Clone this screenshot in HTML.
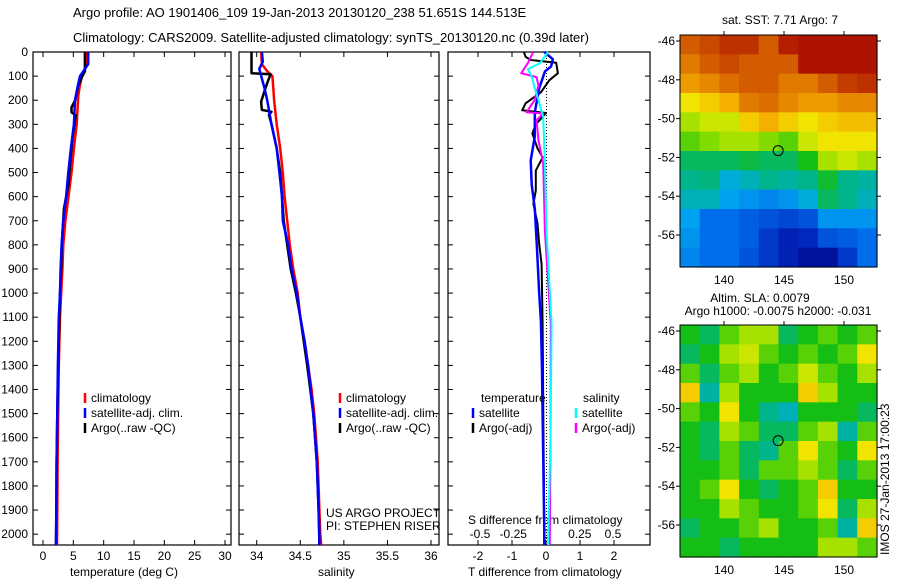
<!DOCTYPE html>
<html><head><meta charset="utf-8"><style>
body{margin:0;background:#fff;}
svg text{font-family:"Liberation Sans",sans-serif;font-size:12px;fill:#000;}
</style></head><body>
<svg id="fig" width="900" height="580" xmlns="http://www.w3.org/2000/svg">
<text x="73" y="17" style="font-size:13px">Argo profile: AO 1901406_109 19-Jan-2013 20130120_238 51.651S 144.513E</text>
<text x="73" y="42" style="font-size:13px">Climatology: CARS2009. Satellite-adjusted climatology: synTS_20130120.nc (0.39d later)</text>
<text x="780" y="24" text-anchor="middle">sat. SST: 7.71 Argo: 7</text>
<text x="760" y="302" text-anchor="middle">Altim. SLA: 0.0079</text>
<text x="778" y="315" text-anchor="middle">Argo h1000: -0.0075 h2000: -0.031</text>
<text transform="translate(889,555) rotate(-90)">IMOS 27-Jan-2013 17:00:23</text>
<text x="70" y="576">temperature (deg C)</text>
<text x="318" y="576">salinity</text>
<text x="468" y="576">T difference from climatology</text>
<text x="468" y="524">S difference from climatology</text>
<text x="326" y="517">US ARGO PROJECT</text>
<text x="326" y="530">PI: STEPHEN RISER</text>
<g id="g"></g>
</svg>
<script>
// ---- profile data ----
const depthClimT=[0,20,50,80,100,150,185,300,400,500,600,700,800,900,1000,1100,1300,1500,1700,1900,2045];
const climT=[7.25,7.25,7.2,6.8,6.4,6.0,5.8,5.55,5.1,4.7,4.2,3.7,3.35,3.2,3.0,2.8,2.6,2.5,2.4,2.35,2.3];
const depthSatT=[0,50,70,100,150,200,300,400,500,600,700,800,900,1000,1100,1300,1500,1700,1900,2045];
const satT=[7.45,7.45,6.9,6.1,5.65,5.27,5.1,4.6,4.17,3.8,3.35,3.07,2.9,2.8,2.6,2.45,2.35,2.25,2.2,2.15];
const depthArgoT=[0,80,100,140,200,230,250,262,350,450,550,650,800,900,1000,1100,1300,1500,1700,1900,2045];
const argoT=[6.9,6.9,6.5,5.8,5.3,4.7,4.7,5.4,4.9,4.5,4.2,3.45,3.1,3.0,2.8,2.7,2.5,2.35,2.25,2.2,2.15];
const depthClimS=[0,50,80,100,150,200,300,400,500,600,700,800,900,1000,1100,1200,1300,1400,1500,1600,1700,1800,1900,2000,2045];
const climS=[34.05,34.06,34.12,34.18,34.19,34.2,34.23,34.27,34.3,34.32,34.35,34.38,34.42,34.47,34.5,34.55,34.59,34.63,34.66,34.68,34.7,34.71,34.72,34.73,34.74];
const depthSatS=[0,40,70,150,200,300,400,500,600,700,800,900,1000,1100,1200,1300,1400,1500,1600,1700,1800,1900,2000,2045];
const satS=[34.06,34.07,34.03,34.09,34.12,34.17,34.23,34.26,34.29,34.3,34.36,34.4,34.46,34.5,34.55,34.59,34.62,34.65,34.67,34.69,34.7,34.71,34.72,34.72];
const depthArgoS=[0,88,92,120,150,206,240,248,260,300,400,500,600,700,800,900,1000,1100,1300,1500,1700,1900,2045];
const argoS=[33.94,33.94,34.16,34.13,34.1,34.05,34.06,34.17,34.14,34.17,34.23,34.27,34.29,34.31,34.35,34.39,34.45,34.5,34.58,34.65,34.69,34.71,34.72];
const depthSatTd=[0,30,60,80,150,250,350,450,550,650,800,1000,1117,1300,1500,1700,2000,2045];
const satTd=[-0.05,0.2,0.15,-0.03,-0.2,-0.33,-0.33,-0.45,-0.42,-0.33,-0.27,-0.2,-0.15,-0.12,-0.1,-0.08,-0.05,-0.05];
const depthArgoTd=[0,20,33,45,88,117,167,213,242,253,300,338,400,437,492,575,630,712,796,880,1130,1500,2000,2045];
const argoTd=[-0.65,-0.6,-0.45,0.3,0.35,0.1,-0.15,-0.6,-0.7,0.0,-0.3,-0.4,-0.25,-0.1,-0.3,-0.3,-0.37,-0.25,-0.2,-0.13,-0.1,-0.08,-0.05,-0.05];
const depthArgoSd=[0,46,88,104,138,200,250,255,283,367,463,742,1130,1600,2045];
const argoSd=[-0.1,-0.14,-0.19,-0.075,-0.06,-0.09,-0.15,-0.025,-0.075,-0.06,-0.025,-0.012,0.032,0.03,0.025];
const depthSatSd=[0,46,71,104,146,200,270,463,742,1130,1600,2045];
const satSd=[0.012,-0.05,-0.14,-0.11,-0.09,-0.06,-0.025,-0.012,0,0.038,0.03,0.012];
const depthTicks=[0,100,200,300,400,500,600,700,800,900,1000,1100,1200,1300,1400,1500,1600,1700,1800,1900,2000];
const tempTicks=[0,5,10,15,20,25,30];
const salTicks=["34","34.5","35","35.5","36"];
const tdTicks=[-2,-1,0,1,2];
const sdTicks=["-0.5","-0.25","0","0.25","0.5"];
// ---- map data (colormap index 0..1) ----
const sstGrid=[
[0.85,0.88,0.92,0.92,0.85,0.95,0.97,0.97,0.97,0.97],
[0.8,0.85,0.88,0.85,0.85,0.85,0.97,0.97,0.97,0.97],
[0.75,0.78,0.82,0.85,0.85,0.8,0.8,0.85,0.9,0.92],
[0.65,0.68,0.72,0.8,0.82,0.78,0.75,0.75,0.78,0.78],
[0.6,0.62,0.62,0.68,0.72,0.68,0.65,0.68,0.7,0.7],
[0.55,0.58,0.6,0.6,0.58,0.55,0.62,0.65,0.65,0.65],
[0.45,0.45,0.45,0.47,0.45,0.45,0.5,0.6,0.62,0.6],
[0.42,0.43,0.35,0.38,0.42,0.4,0.42,0.48,0.42,0.4],
[0.38,0.38,0.32,0.3,0.28,0.3,0.35,0.45,0.42,0.38],
[0.32,0.25,0.25,0.22,0.2,0.18,0.2,0.3,0.3,0.3],
[0.3,0.25,0.25,0.22,0.15,0.1,0.12,0.2,0.22,0.25],
[0.28,0.25,0.25,0.2,0.15,0.1,0.05,0.05,0.15,0.25]];
const slaGrid=[
[.5,.45,.55,.6,.6,.45,.5,.55,.5,.55],
[.45,.5,.6,.62,.55,.5,.55,.5,.55,.65],
[.55,.45,.55,.6,.5,.55,.62,.55,.5,.6],
[.68,.4,.6,.5,.5,.5,.68,.6,.5,.5],
[.55,.5,.65,.5,.42,.38,.5,.5,.5,.45],
[.5,.45,.6,.55,.45,.45,.55,.6,.4,.55],
[.5,.45,.55,.45,.42,.55,.65,.55,.5,.65],
[.5,.5,.55,.45,.55,.55,.6,.55,.45,.55],
[.5,.55,.65,.5,.45,.5,.55,.68,.5,.5],
[.5,.5,.6,.55,.5,.5,.55,.65,.45,.6],
[.45,.5,.5,.55,.6,.5,.5,.55,.4,.68],
[.5,.5,.45,.5,.5,.5,.5,.6,.6,.55]];
const latTicks=[-46,-48,-50,-52,-54,-56];
const lonTicks=[140,145,150];
const argoLon=144.513, argoLat=-51.651;

const NS='http://www.w3.org/2000/svg';
const G=document.getElementById('g');
function mk(tag,attrs,txt){const e=document.createElementNS(NS,tag);for(const k in attrs)e.setAttribute(k,attrs[k]);if(txt!==undefined)e.textContent=txt;G.appendChild(e);return e;}
const top0=52,bot0=545,dMax=2045;
const yD=d=>top0+d*(bot0-top0)/dMax;
function lin(d0,d1,r0,r1){return v=>r0+(v-d0)*(r1-r0)/(d1-d0);}
const panels=[{x0:33,x1:231,fx:lin(0,30,43,225)},{x0:239,x1:439,fx:lin(34,36,256.7,431)},{x0:448,x1:650,fx:lin(-2,2,478,614)}];
const fS=lin(-0.5,0.5,480,613);

panels.forEach((p,i)=>{
  const r=mk('rect',{x:p.x0,y:top0,width:p.x1-p.x0,height:bot0-top0,fill:'none',stroke:'#000','stroke-width':1.2});
  
  
  depthTicks.forEach(d=>{
    const y=yD(d);
    const t1=mk('line',{x1:p.x0,x2:p.x0+5,y1:y,y2:y,stroke:'#000'});
    
    
    const t2=mk('line',{x1:p.x1-5,x2:p.x1,y1:y,y2:y,stroke:'#000'});
    
    
    if(i===0){
      const l=mk('text',{x:28,y:y+4,'text-anchor':'end'},String(d));
      
      
    }
  });
});
function xticks(p,vals,fx,y,name){
  vals.forEach(v=>{const x=fx(+v);
    const t=mk('line',{x1:x,x2:x,y1:top0,y2:top0+5,stroke:'#000'});
    
    
    const b=mk('line',{x1:x,x2:x,y1:bot0-5,y2:bot0,stroke:'#000'});
    
    
    const l=mk('text',{x:x,y:y,'text-anchor':'middle'},String(v));
    
    
  });
}
xticks(panels[0],tempTicks,panels[0].fx,560,'temperature-tick-label');
xticks(panels[1],salTicks,panels[1].fx,560,'salinity-tick-label');
xticks(panels[2],tdTicks,panels[2].fx,560,'t-diff-tick-label');
sdTicks.forEach(v=>{const l=mk('text',{x:fS(+v),y:538,'text-anchor':'middle'},v);
  
  });
const z=mk('line',{x1:fS(0),x2:fS(0),y1:top0,y2:bot0,stroke:'#000','stroke-dasharray':'1,2'});



function prof(ds,vs,fx,color,w,name){
  const pts=ds.map((d,k)=>fx(vs[k]).toFixed(1)+','+yD(d).toFixed(1)).join(' ');
  const e=mk('polyline',{points:pts,fill:'none',stroke:color,'stroke-width':w,'stroke-linejoin':'round'});
  
  
}
prof(depthClimT,climT,panels[0].fx,'#f00',2.5,'temperature-climatology-line');
prof(depthArgoT,argoT,panels[0].fx,'#000',2.5,'temperature-argo-line');
prof(depthSatT,satT,panels[0].fx,'#00f',2.5,'temperature-satellite-line');
prof(depthClimS,climS,panels[1].fx,'#f00',2.5,'salinity-climatology-line');
prof(depthArgoS,argoS,panels[1].fx,'#000',2.5,'salinity-argo-line');
prof(depthSatS,satS,panels[1].fx,'#00f',2.5,'salinity-satellite-line');
prof(depthArgoTd,argoTd,panels[2].fx,'#000',2,'t-diff-argo-line');
prof(depthSatTd,satTd,panels[2].fx,'#00f',2.5,'t-diff-satellite-line');
prof(depthArgoSd,argoSd,fS,'#f0f',2,'s-diff-argo-line');
prof(depthSatSd,satSd,fS,'#0ff',2,'s-diff-satellite-line');

function leg(x,y,color,label){
  const l=mk('line',{x1:x,x2:x,y1:y-9,y2:y+1,stroke:color,'stroke-width':2.5});
  
  
  const t=mk('text',{x:x+6,y:y},label);
  
  
}
[85,340].forEach(x=>{
  leg(x,402,'#f00','climatology');leg(x,417,'#00f','satellite-adj. clim.');leg(x,432,'#000','Argo(..raw -QC)');
});
const lt=mk('text',{x:481,y:402},'temperature');


const ls=mk('text',{x:583,y:402},'salinity');


leg(473,417,'#00f','satellite');leg(473,432,'#000','Argo(-adj)');
leg(576,417,'#0ff','satellite');leg(576,432,'#f0f','Argo(-adj)');

// ---- maps ----
const cmapStops=[0,0.12,0.25,0.33,0.42,0.5,0.58,0.64,0.72,0.82,0.9,1];
const cmapCols=[[0,0,130],[0,40,190],[0,110,235],[0,170,240],[0,180,140],[20,190,20],[130,220,0],[240,235,0],[245,175,0],[220,110,0],[195,60,0],[165,0,0]];
function cmap(v){
  for(let k=1;k<cmapStops.length;k++){
    if(v<=cmapStops[k]){const t=(v-cmapStops[k-1])/(cmapStops[k]-cmapStops[k-1]);
      const a=cmapCols[k-1],b=cmapCols[k];
      return `rgb(${Math.round(a[0]+t*(b[0]-a[0]))},${Math.round(a[1]+t*(b[1]-a[1]))},${Math.round(a[2]+t*(b[2]-a[2]))})`;}
  }
  const c=cmapCols[cmapCols.length-1];return `rgb(${c[0]},${c[1]},${c[2]})`;
}
function map(grid,mx0,my0,mx1,my1,lat46y,name){
  const lonF=lin(140,150,724,844), latF=lin(-46,-56,lat46y,lat46y+194);
  const rows=grid.length, cols=grid[0].length, cw=(mx1-mx0)/cols, ch=(my1-my0)/rows;
  grid.forEach((row,i)=>row.forEach((v,j)=>{
    const c=mk('rect',{x:(mx0+j*cw).toFixed(2),y:(my0+i*ch).toFixed(2),width:(cw+0.6).toFixed(2),height:(ch+0.6).toFixed(2),fill:cmap(v)});
    
    
  }));
  const f=mk('rect',{x:mx0,y:my0,width:mx1-mx0,height:my1-my0,fill:'none',stroke:'#000'});
  
  
  latTicks.forEach(v=>{const y=latF(v);
    const t=mk('line',{x1:mx0-4,x2:mx0,y1:y,y2:y,stroke:'#000'});
    
    
    const t2=mk('line',{x1:mx1,x2:mx1+4,y1:y,y2:y,stroke:'#000'});
    
    
    const l=mk('text',{x:mx0-5,y:y+4,'text-anchor':'end'},String(v));
    
    });
  lonTicks.forEach(v=>{const x=lonF(v);
    const t=mk('line',{x1:x,x2:x,y1:my0-4,y2:my0,stroke:'#000'});
    
    
    const l=mk('text',{x:x,y:my1+17,'text-anchor':'middle'},String(v));
    
    });
  const m=mk('circle',{cx:lonF(argoLon),cy:latF(argoLat),r:5,fill:'none',stroke:'#000'});
  
  
}
map(sstGrid,680,35,877,267,41,'sst-map');
map(slaGrid,680,325,877,557,331,'sla-map');
</script>
</body></html>
